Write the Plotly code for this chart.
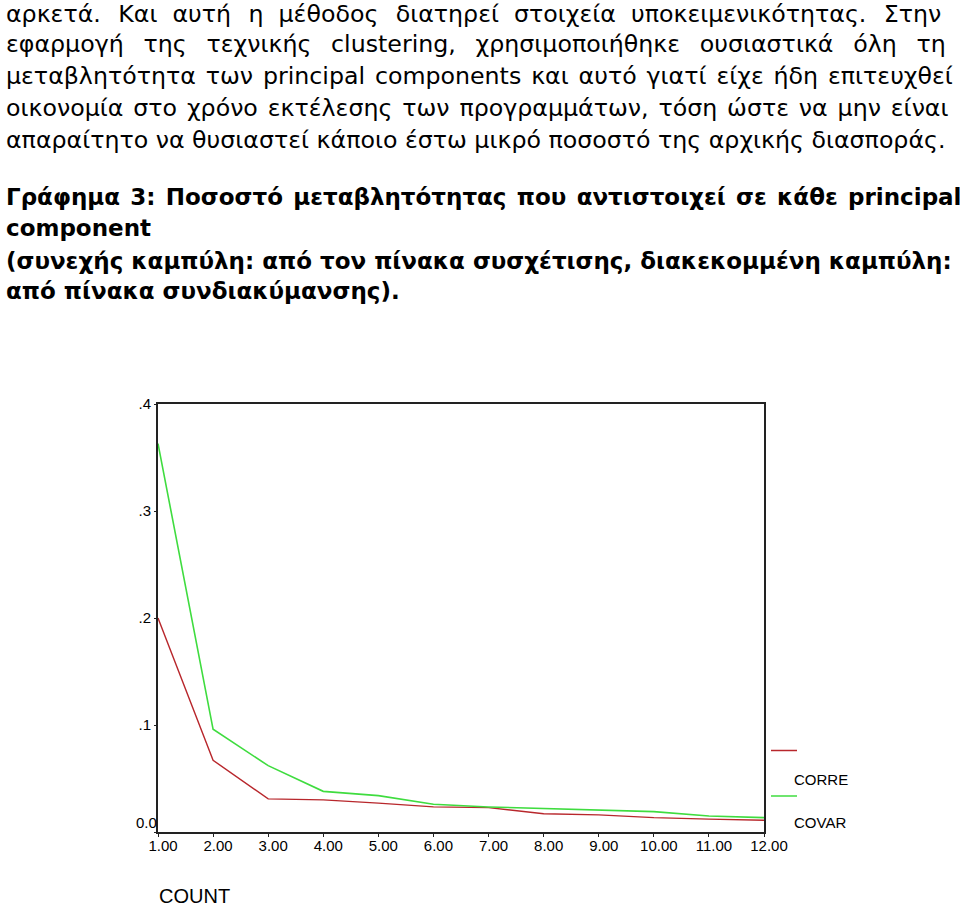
import plotly.graph_objects as go

# ---- data ----
components = [1, 2, 3, 4, 5, 6, 7, 8, 9, 10, 11, 12]
corre = [0.200, 0.067, 0.031, 0.030, 0.027, 0.0235, 0.0228, 0.017, 0.016, 0.0134, 0.012, 0.011]
covar = [0.363, 0.096, 0.062, 0.038, 0.034, 0.026, 0.0234, 0.022, 0.021, 0.019, 0.015, 0.0134]
x_tick_vals = components
x_tick_text = ["1.00", "2.00", "3.00", "4.00", "5.00", "6.00", "7.00", "8.00", "9.00", "10.00", "11.00", "12.00"]
y_tick_vals = [0.0, 0.1, 0.2, 0.3, 0.4]
y_tick_text = ["0.0", ".1", ".2", ".3", ".4"]
legend_labels = ["CORRE", "COVAR"]

body_lines = [
    "αρκετά. Και αυτή η μέθοδος διατηρεί στοιχεία υποκειμενικότητας. Στην",
    "εφαρμογή της τεχνικής clustering, χρησιμοποιήθηκε ουσιαστικά όλη τη",
    "μεταβλητότητα των principal components και αυτό γιατί είχε ήδη επιτευχθεί",
    "οικονομία στο χρόνο εκτέλεσης των προγραμμάτων, τόση ώστε να μην είναι",
    "απαραίτητο να θυσιαστεί κάποιο έστω μικρό ποσοστό της αρχικής διασποράς.",
]
caption_lines = [
    "Γράφημα 3: Ποσοστό μεταβλητότητας που αντιστοιχεί σε κάθε principal",
    "component",
    "(συνεχής καμπύλη: από τον πίνακα συσχέτισης, διακεκομμένη καμπύλη:",
    "από πίνακα συνδιακύμανσης).",
]
x_title = "COUNT"

# ---- layout geometry (pixels) ----
W, H = 960, 908
L, R, T, B = 158, 764, 404, 832
FONT = "Liberation Sans, Arial, sans-serif"
TEXT_FONT = "DejaVu Sans, sans-serif"
RED = "#b8272c"
GREEN = "#3fdc3f"

# extra inter-word spacing used to justify the paragraph lines
NBSP, THIN, HAIR = "\u00a0", "\u2009", "\u200a"


def justify(line, gaps):
    words = line.split(" ")
    out = words[0]
    for i, w in enumerate(words[1:]):
        out += " " + gaps[i % len(gaps)] + w
    return out


body_gaps = [
    [NBSP + HAIR, NBSP, NBSP + HAIR, NBSP, NBSP + HAIR, NBSP, NBSP],
    [NBSP + THIN],
    [HAIR],
    [HAIR],
    [""],
]
cap_gaps = [[HAIR], [""], [""], [""]]


def px(xp):
    return (xp - L) / (R - L)


def py(yp):
    return (B - yp) / (B - T)


fig = go.Figure()
fig.add_trace(go.Scatter(x=components, y=corre, mode="lines", name=legend_labels[0],
                         line=dict(color=RED, width=1.4), showlegend=False))
fig.add_trace(go.Scatter(x=components, y=covar, mode="lines", name=legend_labels[1],
                         line=dict(color=GREEN, width=1.6), showlegend=False))

annotations = []
body_y = [14, 44, 76, 108, 140]
for txt, yy, gaps in zip(body_lines, body_y, body_gaps):
    annotations.append(dict(text=justify(txt, gaps), x=px(4), y=py(yy), xref="paper", yref="paper",
                            xanchor="left", yanchor="middle", showarrow=False,
                            font=dict(family=TEXT_FONT, size=23.7, color="#000")))
cap_y = [197, 228, 261, 291]
for txt, yy, gaps in zip(caption_lines, cap_y, cap_gaps):
    annotations.append(dict(text="<b>" + justify(txt, gaps) + "</b>", x=px(4), y=py(yy),
                            xref="paper", yref="paper",
                            xanchor="left", yanchor="middle", showarrow=False,
                            font=dict(family=TEXT_FONT, size=23, color="#000")))
# axis title
annotations.append(dict(text=x_title, x=px(157), y=py(896), xref="paper", yref="paper",
                        xanchor="left", yanchor="middle", showarrow=False,
                        font=dict(family=FONT, size=20, color="#000")))
# zero label of the y axis sits a little above its tick
annotations.append(dict(text=y_tick_text[0], x=0, y=y_tick_vals[0], xref="paper", yref="y",
                        xanchor="right", yanchor="middle", yshift=10, xshift=1, showarrow=False,
                        font=dict(family=FONT, size=15, color="#000")))
# legend labels
for lab, yy in zip(legend_labels, [779, 822]):
    annotations.append(dict(text=lab, x=px(792), y=py(yy), xref="paper", yref="paper",
                            xanchor="left", yanchor="middle", showarrow=False,
                            font=dict(family=FONT, size=15, color="#000")))

shapes = [
    dict(type="line", xref="paper", yref="paper", x0=px(771), x1=px(797), y0=py(750.5), y1=py(750.5),
         line=dict(color=RED, width=1.5)),
    dict(type="line", xref="paper", yref="paper", x0=px(771), x1=px(797), y0=py(796), y1=py(796),
         line=dict(color=GREEN, width=1.5)),
]

fig.update_layout(
    width=W, height=H,
    margin=dict(l=L, r=W - R, t=T, b=H - B, pad=0),
    paper_bgcolor="white", plot_bgcolor="white",
    showlegend=False,
    annotations=annotations,
    shapes=shapes,
    xaxis=dict(range=[1, 12], tickvals=x_tick_vals, ticktext=x_tick_text,
               showgrid=False, zeroline=False, showline=True, linecolor="#222", linewidth=2,
               mirror=True, ticks="outside", ticklen=3, tickcolor="#222",
               tickfont=dict(family=FONT, size=15, color="#000"), ticklabelshift=5,
               ticklabelstandoff=-4),
    yaxis=dict(range=[0, 0.4], tickvals=y_tick_vals, ticktext=[""] + y_tick_text[1:],
               showgrid=False, zeroline=False, showline=True, linecolor="#222", linewidth=2,
               mirror=True, ticks="outside", ticklen=2, tickcolor="#222",
               tickfont=dict(family=FONT, size=15, color="#000")),
)

fig.write_html("out.html", config={"displayModeBar": False},
               post_script="document.body.style.margin='0';document.body.style.overflow='hidden';")
